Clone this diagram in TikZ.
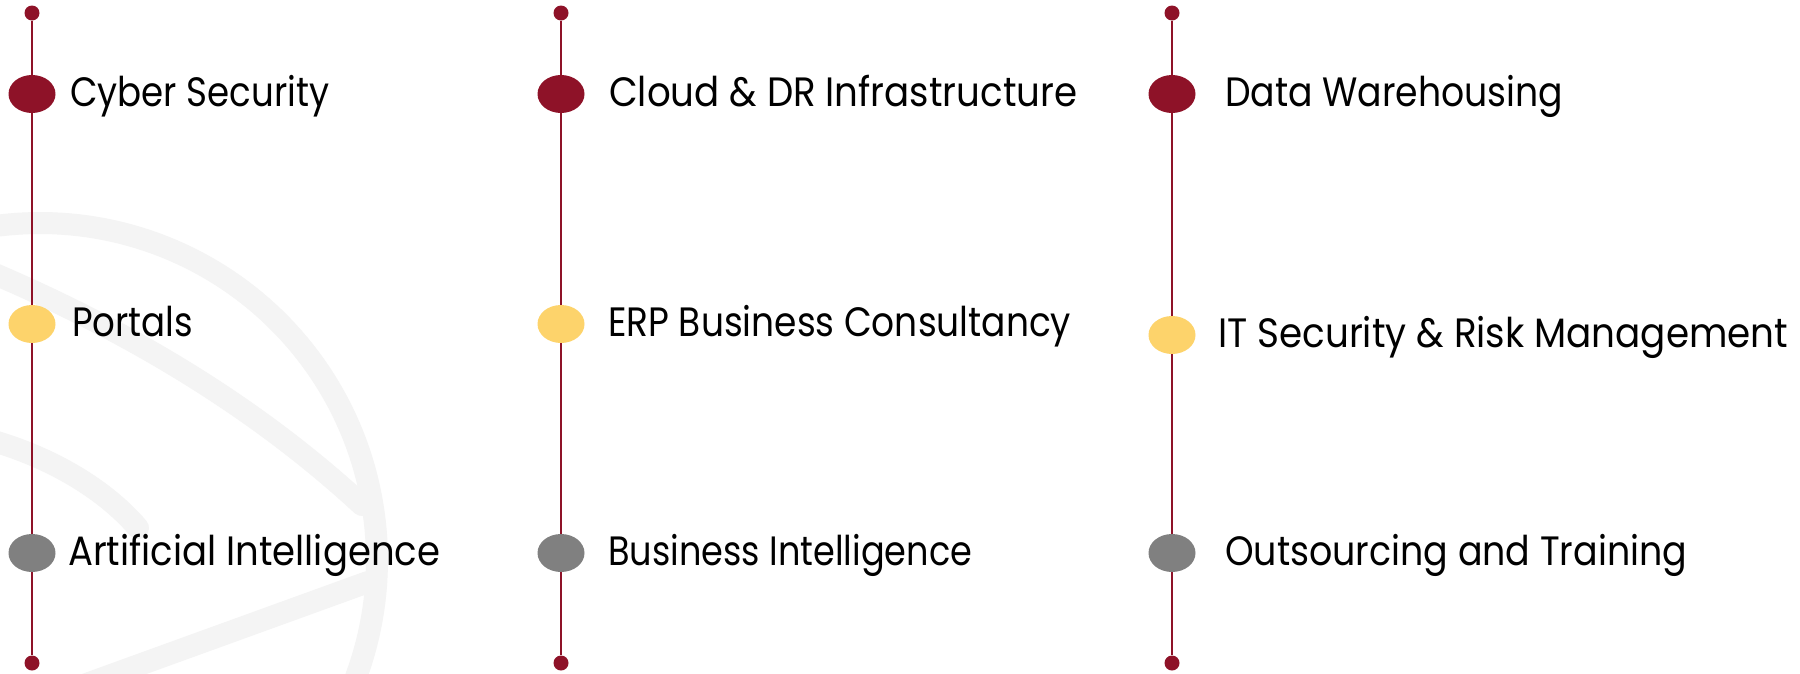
\documentclass[tikz,border=0pt]{standalone}
\usepackage{fontspec}
\setmainfont{Poppins}
\usepackage{graphicx}
\usetikzlibrary{shapes.geometric}
\definecolor{brand}{HTML}{8E1228}
\definecolor{sunny}{HTML}{FDD36B}
\definecolor{stone}{HTML}{808080}
\definecolor{watermark}{HTML}{F4F4F4}
\newcommand\fitw[2]{\resizebox{#1}{\height}{#2}}
\begin{document}
\begin{tikzpicture}[x=1pt,y=-1pt,
  rail/.style={draw=brand, line width=2pt},
  pin/.style={circle, fill=brand, minimum size=15pt, inner sep=0pt},
  bead/.style={ellipse, minimum width=47pt, minimum height=38pt, inner sep=0pt},
  redbead/.style={bead, fill=brand},
  yellowbead/.style={bead, fill=sunny},
  greybead/.style={bead, fill=stone},
  lab/.style={anchor=base west, inner sep=0pt, font=\fontsize{41}{41}\selectfont, text=black},
  wm/.style={draw=watermark, line width=22pt, line cap=round}
]
\useasboundingbox (0,0) rectangle (1800,673);
\fill[white] (0,0) rectangle (1800,673);
% faint watermark
\begin{scope}
\clip (0,0) rectangle (1800,673);
\draw[wm] plot[domain=-97:22, samples=80] ({40+337*cos(\x)},{560+337*sin(\x)});
\draw[wm] (-10,272) .. controls (150,340) and (270,420) .. (362,505);
\draw[wm] (-10,440) .. controls (60,460) and (110,495) .. (138,528);
\draw[wm] (368,582) -- (70,690);
\end{scope}

% column 1
\node[pin] (a0) at (32,13) {};
\node[redbead] (a1) at (32,94) {};
\node[yellowbead] (a2) at (32,324) {};
\node[greybead] (a3) at (32,553) {};
\node[pin] (a4) at (32,663) {};
\draw[rail] (a0) -- (a1) -- (a2) -- (a3) -- (a4);
\node[lab] (ta1) at (70,106) {\fitw{259pt}{Cyber Security}};
\node[lab] (ta2) at (72,336) {\fitw{121pt}{Portals}};
\node[lab] (ta3) at (68,565) {\fitw{372pt}{Artificial Intelligence}};

% column 2
\node[pin] (b0) at (561,13) {};
\node[redbead] (b1) at (561,94) {};
\node[yellowbead] (b2) at (561,324) {};
\node[greybead] (b3) at (561,553) {};
\node[pin] (b4) at (561,663) {};
\draw[rail] (b0) -- (b1) -- (b2) -- (b3) -- (b4);
\node[lab] (tb1) at (609,106) {\fitw{468pt}{Cloud \& DR Infrastructure}};
\node[lab] (tb2) at (608,336) {\fitw{463pt}{ERP Business Consultancy}};
\node[lab] (tb3) at (608,565) {\fitw{364pt}{Business Intelligence}};

% column 3
\node[pin] (c0) at (1172,13) {};
\node[redbead] (c1) at (1172,94) {};
\node[yellowbead] (c2) at (1172,335) {};
\node[greybead] (c3) at (1172,553) {};
\node[pin] (c4) at (1172,663) {};
\draw[rail] (c0) -- (c1) -- (c2) -- (c3) -- (c4);
\node[lab] (tc1) at (1225,106) {\fitw{338pt}{Data Warehousing}};
\node[lab] (tc2) at (1218,347) {\fitw{570pt}{IT Security \& Risk Management}};
\node[lab] (tc3) at (1225,565) {\fitw{462pt}{Outsourcing and Training}};
\end{tikzpicture}
\end{document}
